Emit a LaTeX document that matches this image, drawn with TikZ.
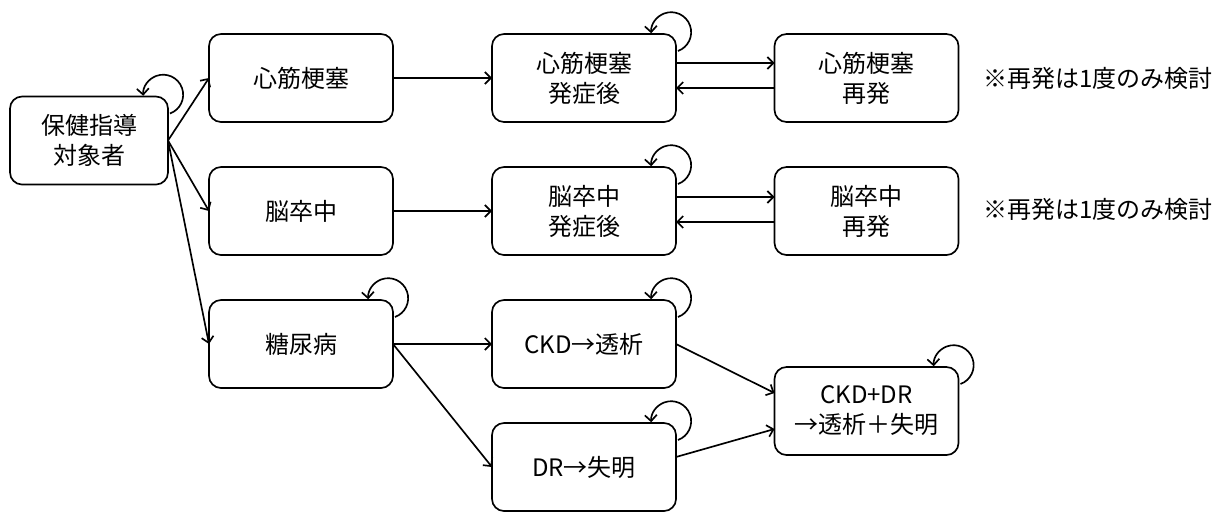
\documentclass[tikz,border=0pt]{standalone}
\usepackage{fontspec}
\setmainfont{Noto Sans CJK JP}
\usetikzlibrary{arrows.meta}
\newcommand\mkloop[1]{\draw[conn] ([shift={(2,17)}]#1.north east) arc[start angle=-70, end angle=183, radius=15pt];}
\begin{document}
\begin{tikzpicture}[x=0.75pt,y=-0.75pt,
  box/.style={draw,rounded corners=9pt,line width=1.25pt,minimum width=138pt,minimum height=66pt,inner sep=0pt,outer sep=0pt,align=center,font=\fontsize{18}{22.5}\selectfont},
  conn/.style={line width=1.25pt,-{Straight Barb[length=4.5pt,width=9pt]}},
  note/.style={anchor=west,inner sep=0pt,font=\fontsize{18}{22.5}\selectfont}]
\useasboundingbox (0,0) rectangle (1218,511);
\node[box,minimum width=118.5pt] (A) at (89,140.5) {保健指導\\対象者};
\node[box] (B) at (301,78) {心筋梗塞};
\node[box] (C) at (584,78) {心筋梗塞\\発症後};
\node[box] (D) at (866.5,78) {心筋梗塞\\再発};
\node[box] (E) at (301,211) {脳卒中};
\node[box] (F) at (584,211) {脳卒中\\発症後};
\node[box] (G) at (866.5,211) {脳卒中\\再発};
\node[box] (H) at (301,344) {糖尿病};
\node[box] (I) at (584,344) {CKD→透析};
\node[box] (J) at (866.5,411) {CKD+DR\\→透析＋失明};
\node[box] (K) at (584,467) {DR→失明};
\node[note] (n1) at (983,78) {※再発は1度のみ検討};
\node[note] (n2) at (983,209) {※再発は1度のみ検討};
\draw[conn] (A.east) -- (B.west);
\draw[conn] (A.east) -- (E.west);
\draw[conn] (A.east) -- (H.west);
\draw[conn] (B.east) -- (C.west);
\draw[conn] ([yshift=11.25pt]C.east) -- ([yshift=11.25pt]D.west);
\draw[conn] ([yshift=-7.5pt]D.west) -- ([yshift=-7.5pt]C.east);
\draw[conn] (E.east) -- (F.west);
\draw[conn] ([yshift=10.5pt]F.east) -- ([yshift=10.5pt]G.west);
\draw[conn] ([yshift=-8.25pt]G.west) -- ([yshift=-8.25pt]F.east);
\draw[conn] (H.east) -- (I.west);
\draw[conn] (H.east) -- (K.west);
\draw[conn] (I.east) -- ([yshift=13.5pt]J.west);
\draw[conn] ([yshift=7.5pt]K.east) -- ([yshift=-13.5pt]J.west);
\mkloop{A}
\mkloop{C}
\mkloop{F}
\mkloop{H}
\mkloop{I}
\mkloop{J}
\mkloop{K}
\end{tikzpicture}
\end{document}
